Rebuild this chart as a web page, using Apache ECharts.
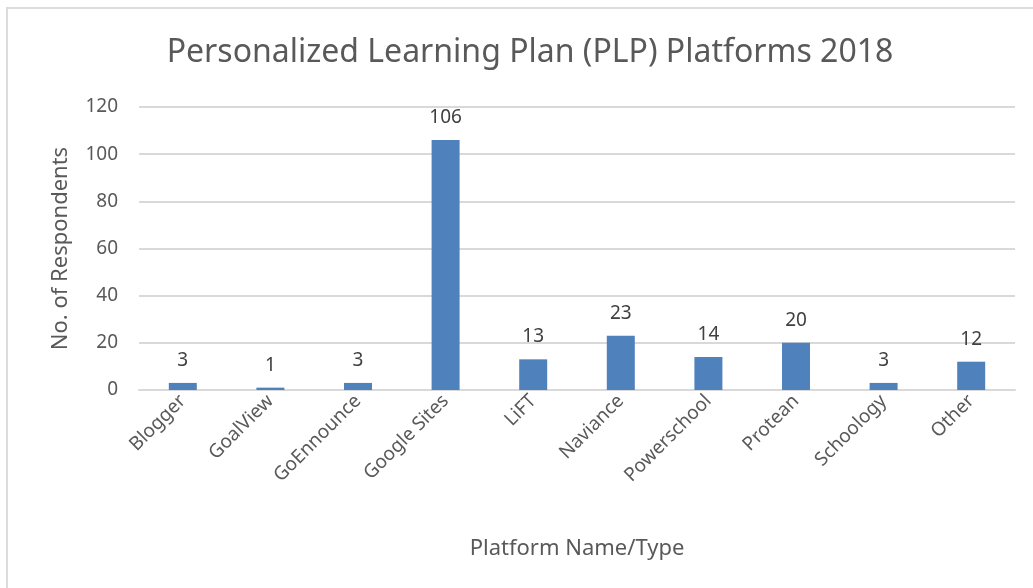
<!DOCTYPE html>
<html>
<head>
<meta charset="utf-8">
<script src="https://cdn.jsdelivr.net/npm/echarts@6/dist/echarts.min.js"></script>
<style>
  html, body { margin: 0; padding: 0; background: #fff; }
  #frame {
    position: absolute; left: 6px; top: 7px; width: 1027px; height: 581px;
    border-top: 2px solid #dcdcdc; border-left: 2px solid #dcdcdc;
  }
  #chart { position: absolute; left: 0; top: 0; width: 1033px; height: 588px; }
</style>
</head>
<body>
<div id="frame"></div>
<div id="chart"></div>
<script>
// categories and values
const platforms = ['Blogger', 'GoalView', 'GoEnnounce', 'Google Sites', 'LiFT',
  'Naviance', 'Powerschool', 'Protean', 'Schoology', 'Other']
const respondents = [3, 1, 3, 106, 13, 23, 14, 20, 3, 12]

const font = 'Noto Sans'
const chart = echarts.init(document.getElementById('chart'))

chart.setOption({
  animation: false,
  textStyle: { fontFamily: font },
  title: {
    text: 'Personalized Learning Plan (PLP) Platforms 2018',
    left: 525,
    top: 32,
    textAlign: 'center',
    textStyle: { fontFamily: font, fontSize: 32, fontWeight: 'normal', color: '#595959' },
  },
  grid: { left: 139, right: 18, top: 107, bottom: 198 },
  xAxis: {
    type: 'category',
    data: platforms,
    name: 'Platform Name/Type',
    nameLocation: 'middle',
    nameGap: 148,
    nameTextStyle: { fontSize: 22, color: '#595959' },
    axisLine: { lineStyle: { color: '#d9d9d9', width: 2 } },
    axisTick: { show: false },
    axisLabel: { rotate: 45, fontSize: 19, color: '#595959', margin: 8, interval: 0 },
  },
  yAxis: {
    type: 'value',
    min: 0,
    max: 120,
    interval: 20,
    name: 'No. of Respondents',
    nameLocation: 'middle',
    nameGap: 67,
    nameTextStyle: { fontSize: 22, color: '#595959' },
    axisLine: { show: false },
    axisTick: { show: false },
    axisLabel: { fontSize: 19, color: '#595959', margin: 21 },
    splitLine: { lineStyle: { color: '#d9d9d9', width: 2 } },
  },
  series: [
    {
      type: 'bar',
      data: respondents,
      barWidth: 28,
      itemStyle: { color: '#4f81bd' },
      label: {
        show: true,
        position: 'top',
        distance: 13,
        fontSize: 19,
        color: '#404040',
      },
    },
  ],
})
</script>
</body>
</html>
